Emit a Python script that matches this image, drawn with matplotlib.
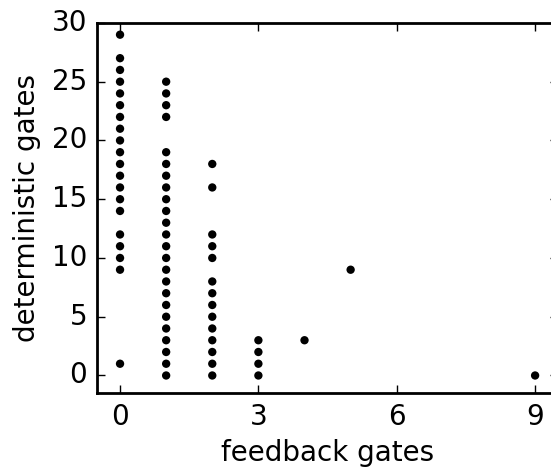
import numpy as np
import matplotlib
matplotlib.use('Agg')
import matplotlib.pyplot as plt

plt.style.use('classic')
plt.rcParams['font.family'] = ['DejaVu Sans']

# deterministic gate counts for each number of feedback gates
det_fb0 = [29,27,26,25,24,23,22,21,20,19,18,17,16,15,14,12,11,10,9,1]
det_fb1 = [25,24,23,22,19,18,17,16,15,14,13,12,11,10,9,8,7,6,5,4,3,2,1,0]
det_fb2 = [18,16,12,11,10,8,7,6,5,4,3,2,1,0]
det_fb3 = [3,2,1,0]
det_fb4 = [3]
det_fb5 = [9]
det_fb9 = [0]

groups = {0:det_fb0, 1:det_fb1, 2:det_fb2, 3:det_fb3, 4:det_fb4, 5:det_fb5, 9:det_fb9}
fb = [] ; det = []
for k in groups:
    fb += [k]*len(groups[k])
    det += groups[k]

fig = plt.figure(figsize=(5.51,4.68), dpi=100, facecolor='white')
ax = fig.add_axes([0.176, 0.160, 0.837, 0.791])
ax.scatter(fb, det, s=36, c='black', edgecolors='none')
ax.set_xlim(-0.5, 9.5)
ax.set_ylim(-1.5, 30)
ax.set_xticks([0,3,6,9])
ax.set_yticks([0,5,10,15,20,25,30])
ax.tick_params(labelsize=20, direction='in', length=6, width=1, pad=7)
for sp in ax.spines.values():
    sp.set_linewidth(2)
ax.set_xlabel('feedback gates', fontsize=20, labelpad=6)
ax.set_ylabel('deterministic gates', fontsize=20, labelpad=8)
fig.savefig('out.png', dpi=100, facecolor='white')
